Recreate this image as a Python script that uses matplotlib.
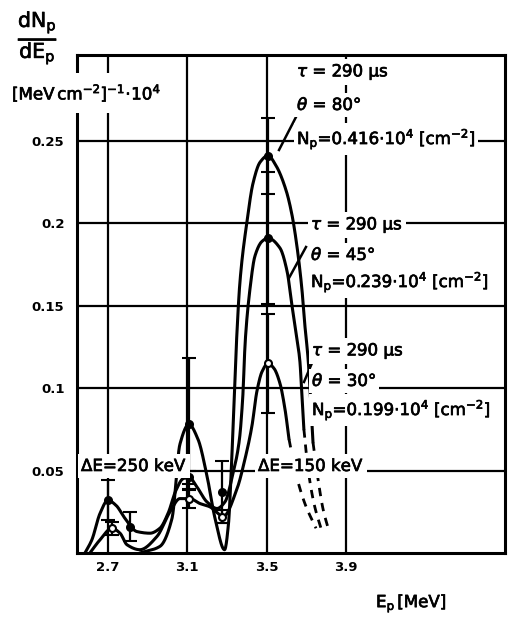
import numpy as np
import matplotlib
matplotlib.use("Agg")
import matplotlib.pyplot as plt
from matplotlib.lines import Line2D
import matplotlib.patheffects as pe

W, H = 508, 617

# axis ticks
e_ticks = [2.7, 3.1, 3.5, 3.9]
e_tick_labels = ["2.7", "3.1", "3.5", "3.9"]
y_ticks = [0.05, 0.10, 0.15, 0.20, 0.25]
y_tick_labels = ["0.05", "0.1", "0.15", "0.2", "0.25"]

# theta = 80 deg spectrum (solid part and extrapolated tail)
th80_E = [2.861, 2.962, 3.023, 3.063, 3.108, 3.154, 3.199, 3.240, 3.288, 3.308,
          3.320, 3.332, 3.345, 3.366, 3.401, 3.431, 3.467, 3.507, 3.547, 3.598,
          3.628, 3.653, 3.678, 3.693, 3.709, 3.721, 3.734]
th80_v = [0.0, 0.004, 0.021, 0.066, 0.078, 0.069, 0.047, 0.021, 0.002, 0.018,
          0.045, 0.080, 0.120, 0.165, 0.201, 0.224, 0.237, 0.241, 0.235, 0.220,
          0.205, 0.186, 0.160, 0.138, 0.118, 0.095, 0.067]
th80_tail_E = [3.734, 3.759, 3.784, 3.815]
th80_tail_v = [0.067, 0.045, 0.027, 0.013]

# theta = 45 deg spectrum
th45_E = [2.584, 2.619, 2.660, 2.700, 2.740, 2.786, 2.846, 2.912, 2.962, 3.003,
          3.043, 3.078, 3.108, 3.149, 3.199, 3.250, 3.290, 3.330, 3.362, 3.380,
          3.392, 3.416, 3.441, 3.477, 3.507, 3.567, 3.603, 3.628, 3.653, 3.668,
          3.678, 3.688]
th45_v = [0.0, 0.008, 0.024, 0.032, 0.029, 0.021, 0.013, 0.012, 0.015, 0.024,
          0.038, 0.045, 0.046, 0.040, 0.031, 0.027, 0.031, 0.048, 0.068, 0.095,
          0.128, 0.160, 0.180, 0.189, 0.191, 0.185, 0.171, 0.150, 0.130, 0.116,
          0.095, 0.075]
th45_tail_E = [3.688, 3.709, 3.739, 3.779]
th45_tail_v = [0.075, 0.051, 0.030, 0.013]

# theta = 30 deg spectrum
th30_E = [2.609, 2.660, 2.720, 2.761, 2.796, 2.861, 2.947, 3.013, 3.063, 3.113,
          3.164, 3.214, 3.255, 3.280, 3.351, 3.391, 3.426, 3.451, 3.477, 3.507,
          3.537, 3.567, 3.593, 3.613]
th30_v = [0.0, 0.008, 0.015, 0.012, 0.005, 0.002, 0.010, 0.025, 0.033, 0.033,
          0.030, 0.028, 0.024, 0.022, 0.039, 0.057, 0.077, 0.098, 0.110, 0.115,
          0.112, 0.103, 0.087, 0.069]
th30_tail_E = [3.613, 3.648, 3.693, 3.749]
th30_tail_v = [0.069, 0.048, 0.030, 0.015]

# measured points with errors
th80_pts_E = [3.108, 3.507]
th80_pts_v = [0.078, 0.241]
th80_pts_err = [0.040, 0.023]

th45_pts_E = [2.700, 2.811, 3.108, 3.275, 3.507]
th45_pts_v = [0.032, 0.016, 0.046, 0.037, 0.191]
th45_pts_err = [0.012, 0.009, 0.004, 0.019, 0.040]

th30_pts_E = [2.720, 3.108, 3.275, 3.507]
th30_pts_v = [0.015, 0.033, 0.022, 0.115]
th30_pts_err = [0.004, 0.006, 0.004, 0.030]


def pchip(x, y, xs):
    """Monotone piecewise cubic through the given points."""
    x = np.asarray(x, float)
    y = np.asarray(y, float)
    h = np.diff(x)
    d = np.diff(y) / h
    n = len(x)
    m = np.zeros(n)
    m[0], m[-1] = d[0], d[-1]
    for k in range(1, n - 1):
        if d[k - 1] * d[k] <= 0:
            m[k] = 0.0
        else:
            w1 = 2 * h[k] + h[k - 1]
            w2 = h[k] + 2 * h[k - 1]
            m[k] = (w1 + w2) / (w1 / d[k - 1] + w2 / d[k])
    idx = np.clip(np.searchsorted(x, xs) - 1, 0, n - 2)
    t = (xs - x[idx]) / h[idx]
    h00 = 2 * t**3 - 3 * t**2 + 1
    h10 = t**3 - 2 * t**2 + t
    h01 = -2 * t**3 + 3 * t**2
    h11 = t**3 - t**2
    return h00 * y[idx] + h10 * h[idx] * m[idx] + h01 * y[idx + 1] + h11 * h[idx] * m[idx + 1]


def smooth(E, v, n=500):
    xs = np.linspace(E[0], E[-1], n)
    return xs, pchip(E, v, xs)


plt.rcParams["mathtext.fontset"] = "dejavusans"
plt.rcParams["font.family"] = ["DejaVu Sans"]

heavy = [pe.withStroke(linewidth=0.5, foreground="black")]

fig = plt.figure(figsize=(W / 100, H / 100), dpi=100)
ax = fig.add_axes([77 / W, 1 - 553 / H, (505 - 77) / W, (553 - 55) / H])
ax.set_xlim(2.544, 4.702)
ax.set_ylim(0.0, 0.302)

for s in ax.spines.values():
    s.set_linewidth(2.2)

ax.set_xticks(e_ticks, e_tick_labels)
ax.set_yticks(y_ticks, y_tick_labels)
ax.tick_params(length=0, labelsize=9.5)
ax.tick_params(axis="x", pad=6)
ax.tick_params(axis="y", pad=9)
for lab in ax.get_xticklabels() + ax.get_yticklabels():
    lab.set_fontweight("bold")

for yv in y_ticks:
    ax.axhline(yv, color="black", lw=1.6, zorder=1)
for ev in e_ticks:
    ax.axvline(ev, color="black", lw=1.6, zorder=1)

curves = [
    (th80_E, th80_v, th80_tail_E, th80_tail_v),
    (th45_E, th45_v, th45_tail_E, th45_tail_v),
    (th30_E, th30_v, th30_tail_E, th30_tail_v),
]
for E, v, tE, tv in curves:
    xs, ys = smooth(E, v)
    ax.plot(xs, ys, color="black", lw=2.2, zorder=3, solid_capstyle="round")
    xs, ys = smooth(tE, tv, 100)
    ax.plot(xs, ys, color="black", lw=2.0, ls=(0, (3, 2.5)), zorder=3)

pts = [
    (th80_pts_E, th80_pts_v, th80_pts_err, "black"),
    (th45_pts_E, th45_pts_v, th45_pts_err, "black"),
    (th30_pts_E, th30_pts_v, th30_pts_err, "white"),
]
for E, v, err, fc in pts:
    ax.errorbar(E, v, yerr=err, fmt="o", ms=5, mfc=fc, mec="black", mew=1.5,
                ecolor="black", elinewidth=1.6, capsize=5, capthick=1.6, zorder=4)


def px(x, y):
    return x / W, 1 - y / H


white = dict(facecolor="white", edgecolor="none", pad=2)


def label(x, y, s, size=12, bbox=white, **kw):
    t = fig.text(*px(x, y), s, fontsize=size, ha=kw.pop("ha", "left"),
                 va="center", bbox=bbox, **kw)
    t.set_path_effects(heavy)
    return t


# axis titles
label(38, 38, r"$\mathrm{\frac{dN_p}{dE_p}}$", size=21, bbox=None, ha="center")
label(12, 93, r"$[\mathrm{MeV\,cm^{-2}}]^{-1}\!\cdot\!10^{4}$", size=12,
      bbox=dict(facecolor="white", edgecolor="none", pad=7))
label(376, 603, r"$\mathrm{E_p\,[MeV]}$", size=12, bbox=None)

# parameter blocks
blocks = [
    (297, [72, 105, 139], "80", "0.416"),
    (311, [225, 255, 282], "45", "0.239"),
    (312, [351, 381, 410], "30", "0.199"),
]
for x0, ys, th, n in blocks:
    label(x0, ys[0], r"$\tau$ = 290 $\mathrm{\mu}$s")
    label(x0, ys[1], r"$\theta$ = %s$\degree$" % th)
    label(x0, ys[2], r"$\mathrm{N_p}$=%s$\cdot$10$^4$ [cm$^{-2}$]" % n)

label(81, 466, r"$\Delta$E=250 keV")
label(258, 466, r"$\Delta$E=150 keV")

# leader lines from labels to curves
for (x1, y1), (x2, y2) in [((296, 117), (279, 150)),
                           ((306, 247), (289, 278)),
                           ((312, 363), (304, 382))]:
    a, b = px(x1, y1)
    c, d = px(x2, y2)
    fig.add_artist(Line2D([a, c], [b, d], color="black", lw=1.8))

fig.savefig("out.png", dpi=100)
